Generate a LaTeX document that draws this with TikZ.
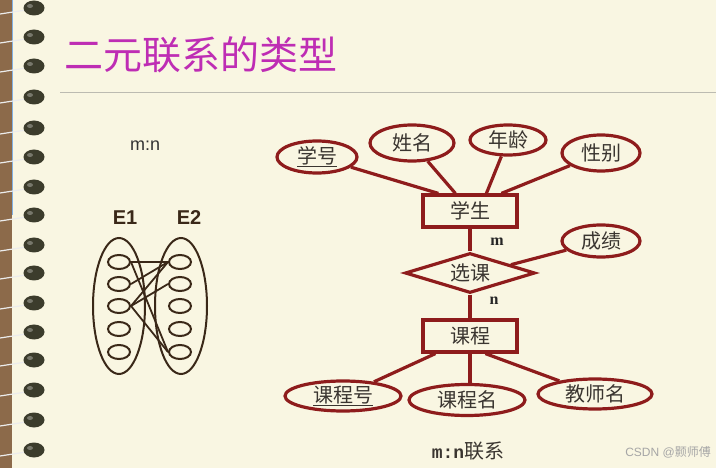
\documentclass[tikz,border=0pt]{standalone}
\usepackage{fontspec}
\setmainfont{Liberation Serif}
\setsansfont{Liberation Sans}
\setmonofont{Liberation Mono}
\newfontfamily\cjk{Noto Sans CJK SC}
\usetikzlibrary{shapes.geometric,calc}
\definecolor{bgc}{HTML}{F9F6E2}
\definecolor{strip}{HTML}{8C6A4A}
\definecolor{erred}{HTML}{8E1C1C}
\definecolor{ertext}{HTML}{3A3530}
\definecolor{setc}{HTML}{3A2818}
\definecolor{titlec}{HTML}{BE2DB4}
\definecolor{ringc}{HTML}{3C3C2C}
\begin{document}
\begin{tikzpicture}[x=1pt,y=-1pt,
  attr/.style={ellipse,draw=erred,line width=3.2pt,fill=bgc,inner sep=0pt,text=ertext,font=\cjk\fontsize{20}{20}\selectfont},
  ent/.style={rectangle,draw=erred,line width=3.2pt,fill=bgc,inner sep=0pt,minimum width=94pt,minimum height=32pt,text=ertext,font=\cjk\fontsize{20}{20}\selectfont},
  rel/.style={diamond,draw=erred,line width=3.2pt,fill=bgc,inner sep=0pt,minimum width=130pt,minimum height=40pt,aspect=3.25,text=ertext,font=\cjk\fontsize{20}{20}\selectfont},
  erline/.style={draw=erred,line width=3.2pt},
  bigset/.style={ellipse,draw=setc,line width=2pt,inner sep=0pt,minimum width=52pt,minimum height=136pt},
  elem/.style={ellipse,draw=setc,line width=2pt,inner sep=0pt,minimum width=22pt,minimum height=14pt},
  link/.style={draw=setc,line width=1.8pt},
  card/.style={font=\bfseries\fontsize{16}{16}\selectfont,text=black!85}
]
\useasboundingbox (0,0) rectangle (716,468);
\fill[bgc] (0,0) rectangle (716,468);
% notebook strip
\fill[strip] (0,0) rectangle (12,468);
\draw[cyan!60!blue!50,line width=1.5pt] (12.5,0) -- (12.5,215);
\foreach \y in {8,37,66,97,128,157,187,215,245,273,303,332,360,390,420,450}{
  \draw[white!85!gray,line width=1.2pt] (0,\y+6) -- (26,\y+2);
  \fill[ringc] (34,\y) ellipse (10.5pt and 7.5pt);
  \fill[ringc!70!white] (30,\y-2) ellipse (3pt and 2pt);
}
% title
\node[anchor=west,text=titlec,font=\cjk\fontsize{39}{39}\selectfont,inner sep=0pt] (title) at (64,55) {二元联系的类型};
\draw[gray!50!bgc,line width=1pt] (60,93) -- (716,93);
% left diagram
\node[anchor=west,font=\sffamily\fontsize{18}{18}\selectfont,text=black!80,inner sep=0pt] (mn) at (130,146) {m:n};
\node[font=\sffamily\bfseries\fontsize{20}{20}\selectfont,text=setc] (e1) at (125,218) {E1};
\node[font=\sffamily\bfseries\fontsize{20}{20}\selectfont,text=setc] (e2) at (189,218) {E2};
\node[bigset] (s1) at (119,306) {};
\node[bigset] (s2) at (181,306) {};
\foreach \i/\y in {1/262,2/284,3/306,4/329,5/352}{
  \node[elem] (l\i) at (119,\y) {};
  \node[elem] (r\i) at (180,\y) {};
}
\draw[link] (l1.east) -- (r1.west);
\draw[link] (l1.east) -- (r5.west);
\draw[link] (l2.east) -- (r1.west);
\draw[link] (l3.east) -- (r1.west);
\draw[link] (l3.east) -- (r2.west);
\draw[link] (l3.east) -- (r5.west);
% ER diagram nodes
\node[ent] (xs) at (470,211) {学生};
\node[rel] (xk) at (470,273) {选课};
\node[ent] (kc) at (470,336) {课程};
\node[attr,minimum width=80pt,minimum height=32pt] (xh) at (317,157) {\underline{学号}};
\node[attr,minimum width=84pt,minimum height=36pt] (xm) at (412,143) {姓名};
\node[attr,minimum width=76pt,minimum height=30pt] (nl) at (508,140) {年龄};
\node[attr,minimum width=78pt,minimum height=36pt] (xb) at (601,153) {性别};
\node[attr,minimum width=78pt,minimum height=32pt] (cj) at (601,241) {成绩};
\node[attr,minimum width=116pt,minimum height=30pt] (kh) at (343,396) {\underline{课程号}};
\node[attr,minimum width=116pt,minimum height=31pt] (km) at (467,400) {课程名};
\node[attr,minimum width=114pt,minimum height=30pt] (js) at (595,394) {教师名};
% ER lines
\draw[erline] (xh) -- ([xshift=17pt]xs.north west);
\draw[erline] (xm) -- ([xshift=34pt]xs.north west);
\draw[erline] (nl) -- ([xshift=65pt]xs.north west);
\draw[erline] (xb) -- ([xshift=80pt]xs.north west);
\draw[erline] (xs.south) -- (xk.north);
\draw[erline] (cj) -- ($(xk.north)!0.615!(xk.east)$);
\draw[erline] (xk.south) -- (kc.north);
\draw[erline] (kh) -- ([xshift=14pt]kc.south west);
\draw[erline] (kc.south) -- (kc.south |- km.north);
\draw[erline] (js) -- ([xshift=64pt]kc.south west);
\node[card] (cm) at (497,242) {m};
\node[card] (cn) at (494,301) {n};
% caption
\node[text=ertext,inner sep=0pt] (cap) at (468,451) {{\ttfamily\bfseries\fontsize{18}{18}\selectfont m:n}{\cjk\fontsize{20}{20}\selectfont 联系}};
\node[anchor=east,text=gray!70,inner sep=0pt,font=\fontsize{12}{12}\selectfont] (wm) at (711,452) {{\sffamily CSDN @}{\cjk 颢师傅}};
\end{tikzpicture}
\end{document}
